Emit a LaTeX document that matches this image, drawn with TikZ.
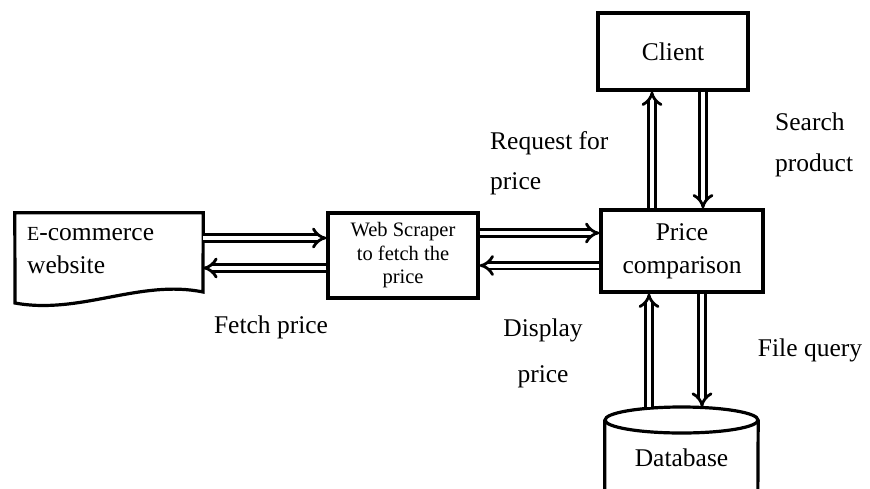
\documentclass[tikz,border=0pt]{standalone}
\usepackage{fontspec}
\setmainfont{Liberation Serif}
\usetikzlibrary{arrows.meta}
\usetikzlibrary{calc}

\tikzset{
  box/.style={draw, line width=3.2pt, inner sep=0pt, align=center},
  dbl/.style={double, double distance=4pt, line width=2.8pt, -{Implies}},
  lbl/.style={inner sep=0pt},
  big/.style={font=\fontsize{25.5}{33}\selectfont},
  small/.style={font=\fontsize{20.5}{23.5}\selectfont}
}

\begin{document}
\begin{tikzpicture}[x=1pt, y=-1pt]
        \useasboundingbox (0,0) rectangle (870,488);

        % Boxes
        \node[box, big, minimum width=150pt, minimum height=77pt] (client) at (673,51.5) {Client};
        \node[box, big, minimum width=162pt, minimum height=82pt] (price) at (682,251) {Price\\comparison};
        \node[box, small, minimum width=150pt, minimum height=85pt] (scraper) at (403,255.5) {Web Scraper\\to fetch the\\price};

        % E-commerce page (wavy bottom)
        \node[lbl, minimum width=188pt, minimum height=85pt] (shop) at (109,255.5) {};
        \draw[line width=3.2pt] (15,303) -- (shop.north west) -- (shop.north east) -- (203,292)
            .. controls (140,279) and (80,315) .. (15,303) -- cycle;
        \node[lbl, big, align=left, anchor=west] (shoptxt) at (27,251)
            {{\fontsize{20}{20}\selectfont E}-commerce\\website};

        % Database
        \coordinate (dbtop) at (681.5,420);
        \node[lbl, minimum width=153pt, minimum height=26pt] (db) at (dbtop) {};
        \draw[line width=3.2pt] (dbtop) ellipse [x radius=76.5, y radius=13];
        \draw[line width=3.2pt] (db.west) -- ++(0,80) arc [start angle=180, end angle=0, x radius=76.5, y radius=13] -- (db.east);
        \node[lbl, big] (dbtxt) at (681.5,458) {Database};

        % Arrows between the boxes
        \draw[dbl] ([yshift=17.5pt]shop.east) -- ([yshift=17.5pt]shop.east -| scraper.west);
        \draw[dbl] ([yshift=-12.5pt]scraper.west) -- ([yshift=-12.5pt]scraper.west -| shop.east);
        \draw[dbl] ([yshift=22.5pt]scraper.east) -- ([yshift=22.5pt]scraper.east -| price.west);
        \draw[dbl] ([yshift=-14.5pt]price.west) -- ([yshift=-14.5pt]price.west -| scraper.east);
        \draw[dbl] ([xshift=-21pt]client.south |- price.north) -- ([xshift=-21pt]client.south);
        \draw[dbl] ([xshift=30pt]client.south) -- ([xshift=30pt]client.south |- price.north);
        \draw[dbl] ([xshift=-32.5pt]db.north) -- ([xshift=-32.5pt]db.north |- price.south);
        \draw[dbl] ([xshift=20.5pt]db.north |- price.south) -- ([xshift=20.5pt]db.north);

        % Labels
        \node[lbl, big, align=left, anchor=west, font=\fontsize{25.5}{40}\selectfont] (req) at (490,163) {Request for\\price};
        \node[lbl, big, align=left, anchor=west, font=\fontsize{25.5}{41}\selectfont] (search) at (775,144.5) {Search\\product};
        \node[lbl, big] (fetch) at (271,327) {Fetch price};
        \node[lbl, big, align=center, font=\fontsize{25.5}{46}\selectfont] (disp) at (543,353) {Display\\price};
        \node[lbl, big] (query) at (810,350) {File query};
\end{tikzpicture}
\end{document}
